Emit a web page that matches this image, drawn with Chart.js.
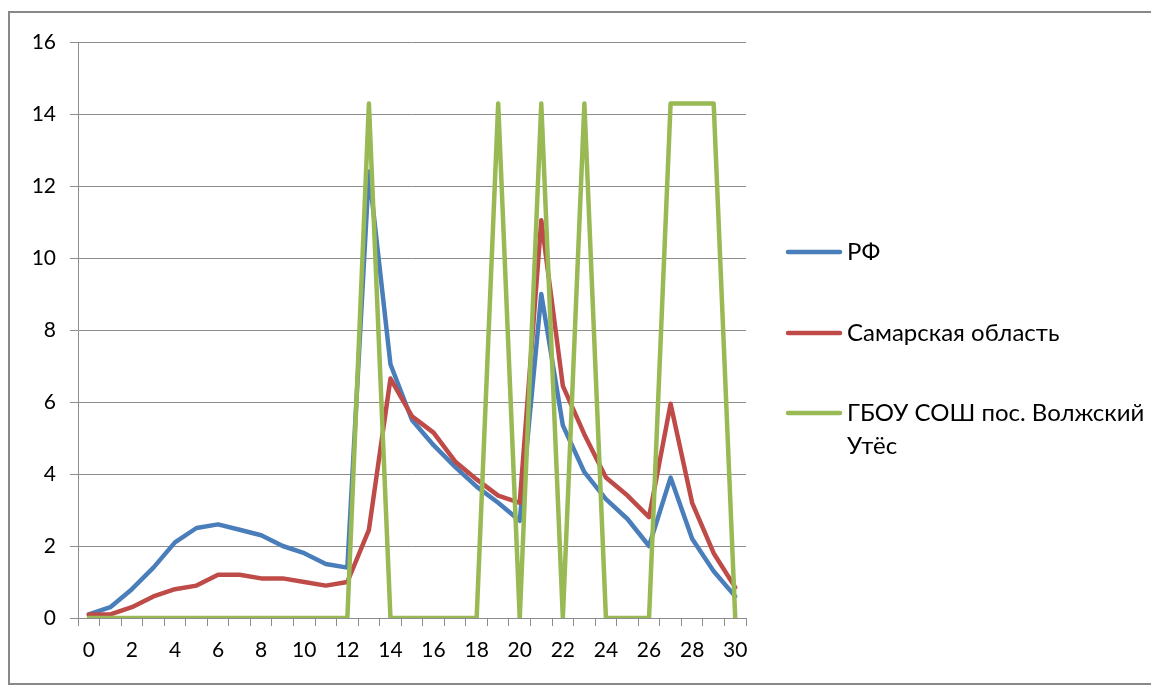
<!DOCTYPE html>
<html>
<head>
<meta charset="utf-8">
<script src="https://cdn.jsdelivr.net/npm/chart.js@4"></script>
<style>
  html, body { margin: 0; padding: 0; background: #fff; }
  #wrap { width: 1151px; height: 686px; }
</style>
</head>
<body>
<div id="wrap"><canvas id="myChart" width="1151" height="686"></canvas></div>
<script>
const labels = ['0','1','2','3','4','5','6','7','8','9','10','11','12','13','14','15',
                '16','17','18','19','20','21','22','23','24','25','26','27','28','29','30'];

const seriesNames = ['РФ', 'Самарская область', 'ГБОУ СОШ пос. Волжский Утёс'];

const rf = [0.1, 0.3, 0.8, 1.4, 2.1, 2.5, 2.6, 2.45, 2.3, 2.0, 1.8, 1.5, 1.4, 12.4, 7.05, 5.5,
            4.8, 4.2, 3.65, 3.2, 2.7, 9.0, 5.35, 4.05, 3.3, 2.75, 2.0, 3.9, 2.2, 1.3, 0.6];

const samara = [0.1, 0.1, 0.3, 0.6, 0.8, 0.9, 1.2, 1.2, 1.1, 1.1, 1.0, 0.9, 1.0, 2.45, 6.65, 5.6,
                5.15, 4.35, 3.85, 3.4, 3.2, 11.05, 6.45, 5.1, 3.9, 3.4, 2.8, 5.95, 3.2, 1.8, 0.85];

const school = [0, 0, 0, 0, 0, 0, 0, 0, 0, 0, 0, 0, 0, 14.29, 0, 0,
                0, 0, 0, 14.29, 0, 14.29, 0, 14.29, 0, 0, 0, 14.29, 14.29, 14.29, 0];

const colors = ['#4a7ebb', '#be4b48', '#98b954'];
const gridColor = '#8c8c8c';
const fontFamily = 'Lato, "Open Sans", sans-serif';

// рамка вокруг диаграммы (правый край за пределами картинки)
const frame = {
    id: 'frame',
    beforeDraw(chart) {
        const c = chart.ctx;
        c.save();
        c.fillStyle = '#fff';
        c.fillRect(0, 0, chart.width, chart.height);
        c.strokeStyle = '#888';
        c.lineWidth = 2;
        c.strokeRect(9, 12, 1170, 672);
        c.restore();
    }
};

// легенда справа, с переносом длинных подписей
const sideLegend = {
    id: 'sideLegend',
    afterDraw(chart) {
        const c = chart.ctx;
        const rows = [252, 333, 413];
        const lineHeight = 33;
        const maxWidth = 300;
        c.save();
        c.font = '24px ' + fontFamily;
        c.textBaseline = 'middle';
        c.fillStyle = '#000';
        chart.data.datasets.forEach((ds, i) => {
            const y = rows[i];
            c.strokeStyle = ds.borderColor;
            c.lineWidth = 4.5;
            c.lineCap = 'round';
            c.beginPath();
            c.moveTo(788, y);
            c.lineTo(840, y);
            c.stroke();

            const words = ds.label.split(' ');
            let line = '';
            let ly = y;
            words.forEach(w => {
                const test = line ? line + ' ' + w : w;
                if (c.measureText(test).width > maxWidth && line) {
                    c.fillText(line, 847, ly);
                    line = w;
                    ly += lineHeight;
                } else {
                    line = test;
                }
            });
            c.fillText(line, 847, ly);
        });
        c.restore();
    }
};

const ctx = document.getElementById('myChart');

new Chart(ctx, {
    type: 'line',
    data: {
        labels: labels,
        datasets: [
            { label: seriesNames[0], data: rf, borderColor: colors[0], order: 2 },
            { label: seriesNames[1], data: samara, borderColor: colors[1], order: 1 },
            { label: seriesNames[2], data: school, borderColor: colors[2], order: 0 }
        ].map(ds => Object.assign(ds, {
            borderWidth: 4.5,
            pointRadius: 0,
            tension: 0,
            fill: false,
            borderJoinStyle: 'round',
            borderCapStyle: 'round'
        }))
    },
    options: {
        responsive: false,
        animation: false,
        devicePixelRatio: 1,
        layout: { padding: { left: 0, top: 42, right: 405, bottom: 0 } },
        plugins: {
            legend: { display: false },
            tooltip: { enabled: false }
        },
        scales: {
            x: {
                type: 'category',
                offset: true,
                grid: {
                    offset: true,
                    drawOnChartArea: false,
                    drawTicks: true,
                    tickLength: 8,
                    color: gridColor
                },
                border: { color: gridColor, width: 1 },
                ticks: {
                    autoSkip: false,
                    maxRotation: 0,
                    padding: 12,
                    color: '#000',
                    font: { family: fontFamily, size: 21 },
                    callback: (v, i) => (i % 2 === 0 ? labels[i] : '')
                },
                afterFit: scale => { scale.height = 68; }
            },
            y: {
                min: 0,
                max: 16,
                ticks: {
                    stepSize: 2,
                    padding: 14,
                    color: '#000',
                    font: { family: fontFamily, size: 21 }
                },
                grid: { color: gridColor, tickLength: 8 },
                border: { color: gridColor, width: 1 },
                afterFit: scale => { scale.width = 78; }
            }
        }
    },
    plugins: [frame, sideLegend]
});
</script>
</body>
</html>
